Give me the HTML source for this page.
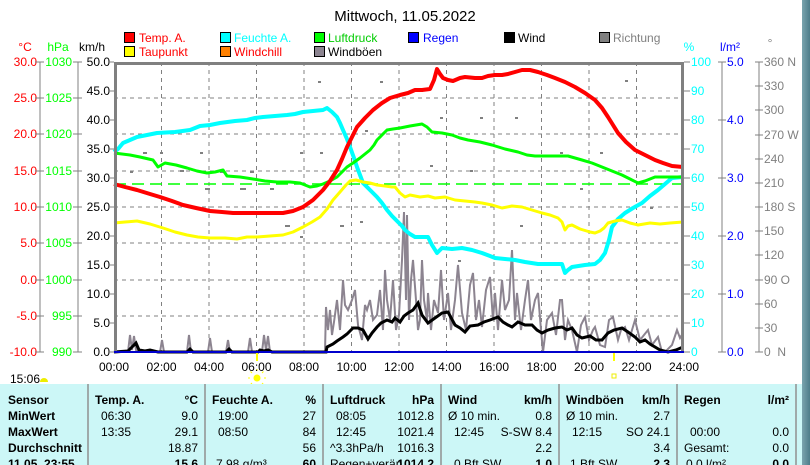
<!DOCTYPE html>
<html><head><meta charset="utf-8"><style>
html,body{margin:0;padding:0;background:#fff;}
body{width:810px;height:465px;overflow:hidden;position:relative;font-family:"Liberation Sans",sans-serif;}
svg{position:absolute;left:0;top:0;}
</style></head><body>
<svg width="810" height="465" viewBox="0 0 810 465" font-family="Liberation Sans, sans-serif">
<defs><linearGradient id="rs" x1="0" x2="1"><stop offset="0" stop-color="#7aa4ae"/><stop offset="1" stop-color="#4d7d8a"/></linearGradient></defs>
<rect x="802" y="0" width="8" height="465" fill="url(#rs)"/>
<text x="405" y="21" font-size="15" text-anchor="middle" fill="#000">Mittwoch, 11.05.2022</text>
<!-- legend -->
<g font-size="12">
<rect x="124.5" y="32.5" width="10" height="10" fill="#f00" stroke="#000"/><text x="139" y="42" fill="#f00">Temp. A.</text>
<rect x="220.5" y="32.5" width="10" height="10" fill="#0ff" stroke="#000"/><text x="234" y="42" fill="#0ff">Feuchte A.</text>
<rect x="314.5" y="32.5" width="10" height="10" fill="#0f0" stroke="#000"/><text x="328" y="42" fill="#0c0">Luftdruck</text>
<rect x="408.5" y="32.5" width="10" height="10" fill="#00f" stroke="#000"/><text x="423" y="42" fill="#00f">Regen</text>
<rect x="504.5" y="32.5" width="10" height="10" fill="#000" stroke="#000"/><text x="518" y="42" fill="#000">Wind</text>
<rect x="599.5" y="32.5" width="10" height="10" fill="#808080" stroke="#000"/><text x="613" y="42" fill="#808080">Richtung</text>
<rect x="124.5" y="46.5" width="10" height="10" fill="#ff0" stroke="#000"/><text x="139" y="56" fill="#f00">Taupunkt</text>
<rect x="220.5" y="46.5" width="10" height="10" fill="#ff8000" stroke="#000"/><text x="234" y="56" fill="#f00">Windchill</text>
<rect x="314.5" y="46.5" width="10" height="10" fill="#8c8490" stroke="#000"/><text x="328" y="56" fill="#000">Windböen</text>
</g>
<!-- unit labels -->
<g font-size="12" text-anchor="middle">
<text x="25" y="51" fill="#f00">°C</text><text x="58" y="51" fill="#0f0">hPa</text><text x="92" y="51" fill="#000">km/h</text>
<text x="689" y="51" fill="#0ff">%</text><text x="730" y="51" fill="#00f">l/m²</text><text x="770" y="47" fill="#808080">°</text>
</g>
<!-- axes lines -->
<g stroke="#808080" stroke-width="1">
<line x1="40" y1="62" x2="40" y2="352"/><line x1="78" y1="62" x2="78" y2="352"/>
<line x1="722" y1="62" x2="722" y2="352"/><line x1="759" y1="62" x2="759" y2="352"/>
</g>
<g font-size="12">
<g fill="#f00" text-anchor="end">
<text x="37" y="66">30.0</text><text x="37" y="102">25.0</text><text x="37" y="138">20.0</text><text x="37" y="175">15.0</text><text x="37" y="211">10.0</text><text x="37" y="247">5.0</text><text x="37" y="284">0.0</text><text x="37" y="320">-5.0</text><text x="37" y="356">-10.0</text>
</g>
<g fill="#0f0" text-anchor="end">
<text x="72" y="66">1030</text><text x="72" y="102">1025</text><text x="72" y="138">1020</text><text x="72" y="175">1015</text><text x="72" y="211">1010</text><text x="72" y="247">1005</text><text x="72" y="284">1000</text><text x="72" y="320">995</text><text x="72" y="356">990</text>
</g>
<g fill="#000" text-anchor="end">
<text x="110" y="66">50.0</text><text x="110" y="95">45.0</text><text x="110" y="124">40.0</text><text x="110" y="153">35.0</text><text x="110" y="182">30.0</text><text x="110" y="211">25.0</text><text x="110" y="240">20.0</text><text x="110" y="269">15.0</text><text x="110" y="298">10.0</text><text x="110" y="327">5.0</text><text x="110" y="356">0.0</text>
</g>
<g fill="#0ff">
<text x="691" y="66">100</text><text x="691" y="95">90</text><text x="691" y="124">80</text><text x="691" y="153">70</text><text x="691" y="182">60</text><text x="691" y="211">50</text><text x="691" y="240">40</text><text x="691" y="269">30</text><text x="691" y="298">20</text><text x="691" y="327">10</text><text x="691" y="356">0</text>
</g>
<g fill="#00f">
<text x="727" y="66">5.0</text><text x="727" y="124">4.0</text><text x="727" y="182">3.0</text><text x="727" y="240">2.0</text><text x="727" y="298">1.0</text><text x="727" y="356">0.0</text>
</g>
<g fill="#808080">
<text x="764" y="66">360 N</text><text x="764" y="90">330</text><text x="764" y="114">300</text><text x="764" y="139">270 W</text><text x="764" y="163">240</text><text x="764" y="187">210</text><text x="764" y="211">180 S</text><text x="764" y="235">150</text><text x="764" y="259">120</text><text x="764" y="284">90 O</text><text x="764" y="308">60</text><text x="764" y="332">30</text><text x="764" y="356">0 &#160;N</text>
</g>
</g>
<g stroke="#808080">
<path d="M35 62h9M35 98h9M35 134h9M35 171h9M35 207h9M35 243h9M35 280h9M35 316h9M35 352h9"/>
<path d="M73 62h9M73 98h9M73 134h9M73 171h9M73 207h9M73 243h9M73 280h9M73 316h9M73 352h9"/>
<path d="M109 62h5M109 91h5M109 120h5M109 149h5M109 178h5M109 207h5M109 236h5M109 265h5M109 294h5M109 323h5M109 352h5"/>
<path d="M684 62h6M684 91h6M684 120h6M684 149h6M684 178h6M684 207h6M684 236h6M684 265h6M684 294h6M684 323h6M684 352h6"/>
<path d="M718 62h8M718 120h8M718 178h8M718 236h8M718 294h8M718 352h8"/>
<path d="M755 62h8M755 86h8M755 110h8M755 135h8M755 159h8M755 183h8M755 207h8M755 231h8M755 255h8M755 280h8M755 304h8M755 328h8M755 352h8"/>
</g>
<!-- grid -->
<g stroke="#808080" stroke-dasharray="4,4" stroke-width="1">
<path d="M114 98H684M114 134H684M114 171H684M114 207H684M114 243H684M114 280H684M114 316H684"/>
<path d="M161.5 62V352M209 62V352M256.5 62V352M304 62V352M351.5 62V352M399 62V352M446.5 62V352M494 62V352M541.5 62V352M589 62V352M636.5 62V352"/>
</g>
<!-- direction dots -->
<g fill="#808080">
<rect x="143" y="152" width="4" height="2"/><rect x="160" y="152" width="3" height="2"/><rect x="180" y="170" width="4" height="2"/><rect x="220" y="171" width="4" height="2"/><rect x="205" y="188" width="5" height="2"/><rect x="240" y="188" width="6" height="2"/><rect x="270" y="188" width="4" height="2"/><rect x="300" y="152" width="3" height="2"/><rect x="320" y="152" width="3" height="2"/><rect x="318" y="81" width="3" height="2"/><rect x="380" y="81" width="3" height="2"/><rect x="285" y="225" width="5" height="2"/><rect x="340" y="225" width="4" height="2"/><rect x="360" y="221" width="3" height="2"/><rect x="365" y="130" width="3" height="2"/><rect x="420" y="90" width="3" height="2"/><rect x="440" y="117" width="3" height="2"/><rect x="480" y="117" width="3" height="2"/><rect x="515" y="117" width="3" height="2"/><rect x="560" y="152" width="3" height="2"/><rect x="600" y="152" width="3" height="2"/><rect x="640" y="152" width="3" height="2"/><rect x="430" y="165" width="3" height="2"/><rect x="470" y="170" width="3" height="2"/><rect x="520" y="225" width="3" height="2"/><rect x="458" y="260" width="3" height="2"/><rect x="625" y="80" width="3" height="2"/><rect x="580" y="188" width="3" height="2"/><rect x="650" y="207" width="3" height="2"/><rect x="300" y="236" width="3" height="2"/><rect x="200" y="152" width="3" height="2"/><rect x="250" y="171" width="4" height="2"/><rect x="130" y="171" width="3" height="2"/></g>
<!-- pressure dashed ref -->
<line x1="114" y1="184" x2="684" y2="184" stroke="#0f0" stroke-width="1.5" stroke-dasharray="12,6"/>
<!-- gusts -->
<polyline fill="none" stroke="#8c8490" stroke-width="2" points="114,352 128,352 130,335 132,350 134,336 136,350 138,352 160,352 162,340 164,352 187,352 189,335 191,352 208,352 210,338 212,352 226,352 228,340 230,352 248,352 250,338 252,352 262,352 264,335 266,350 268,336 270,352 325,352 326,307 328,330 330,310 332,335 334,322 337,300 340,330 343,280 345,305 348,310 352,300 355,290 358,325 362,340 365,305 367,310 370,300 373,320 377,315 380,290 383,330 385,270 387,300 390,320 393,280 396,330 399,315 402,260 404,212 406,300 407,215 409,320 411,280 413,260 416,300 418,330 420,320 422,260 424,300 427,320 428,293 431,330 434,300 438,313 441,270 444,320 448,293 451,330 455,300 458,265 462,313 466,330 470,285 473,273 476,320 479,300 482,327 486,290 490,277 493,320 495,293 498,330 502,280 505,310 509,300 512,250 515,320 517,293 521,330 525,300 528,280 531,320 535,300 538,293 541,330 543,352 547,320 552,313 556,335 560,300 562,300 565,340 568,320 572,330 577,352 581,325 585,317 589,340 593,330 595,327 600,345 605,347 609,320 613,317 618,340 621,330 625,327 629,340 635,320 640,340 644,335 648,330 652,345 658,337 662,352 665,352 672,345 677,330 680,338 683,333"/>
<!-- wind -->
<polyline fill="none" stroke="#000" stroke-width="3" points="114,352 128,351 133,346 136,343 139,350 145,351 150,350 158,352 187,352 190,349 193,352 226,352 229,349 232,352 258,352 260,350 264,351 268,350 272,352 326,352 327,347 333,344 337,341 343,337 347,334 353,328 358,328 363,330 368,339 372,333 377,327 381,323 387,320 392,322 395,318 400,322 404,316 408,313 413,310 418,303 422,315 428,323 435,318 442,313 448,312 455,325 460,328 465,332 470,326 478,325 484,322 490,320 498,317 503,322 508,325 512,327 518,322 525,325 532,325 537,330 542,333 548,330 555,328 562,327 567,330 572,328 577,335 582,338 590,336 596,340 602,340 608,333 614,330 622,328 628,332 635,337 640,342 645,340 650,344 655,347 660,350 668,352 676,350 683,347"/>
<!-- humidity -->
<polyline fill="none" stroke="#0ff" stroke-width="4" stroke-linejoin="round" points="114,152 118,149 123,143 130,140 137,137 147,135 157,133 175,132 190,130 200,126 210,125 220,123 235,121 247,120 255,118 263,117 275,116 287,115 295,114 303,112 313,111 323,110 327,108 332,112 337,117 340,123 343,130 347,139 350,147 354,158 357,167 360,175 363,183 370,190 377,197 382,203 387,210 392,216 398,222 402,226 405,230 410,234 415,237 428,237 432,245 437,253 442,248 452,249 462,248 472,250 482,253 490,256 495,258 505,259 515,260 525,262 538,264 550,264 562,264 565,273 568,270 572,267 585,265 595,264 600,260 605,253 609,240 612,227 618,219 625,213 633,208 642,203 650,196 658,190 665,184 672,178 683,177"/>
<!-- dewpoint -->
<polyline fill="none" stroke="#ff0" stroke-width="3" stroke-linejoin="round" points="114,223 125,222 137,221 150,224 163,228 175,232 187,235 198,237 210,238 225,238 237,239 247,237 257,237 270,236 283,235 293,232 303,227 312,222 320,217 327,209 333,200 340,192 346,185 350,181 356,180 363,182 370,183 377,185 385,186 392,187 395,187 400,193 405,197 410,195 420,197 428,196 435,198 445,197 455,200 465,201 475,202 482,203 492,205 502,208 512,206 522,207 532,210 542,213 550,215 558,218 562,222 565,230 568,226 572,225 580,229 590,232 595,233 600,231 604,228 608,223 615,221 622,220 630,223 638,225 650,223 660,224 670,223 683,222"/>
<!-- pressure -->
<polyline fill="none" stroke="#0f0" stroke-width="3" stroke-linejoin="round" points="114,153 130,155 140,157 153,160 158,167 165,163 176,165 187,168 197,171 207,173 215,172 223,170 227,176 240,177 253,179 265,181 277,182 290,182 300,183 305,185 310,187 317,186 323,184 330,181 337,177 342,172 347,167 353,163 360,158 365,154 370,150 374,145 377,140 382,135 387,130 393,129 400,128 410,126 422,124 427,127 432,132 442,133 452,135 460,138 468,140 480,142 492,145 505,149 518,152 527,155 535,156 550,156 568,156 575,158 582,160 592,163 602,167 612,171 622,175 630,179 638,183 645,181 655,177 670,177 683,177"/>
<!-- temp -->
<polyline fill="none" stroke="#f00" stroke-width="4" stroke-linejoin="round" points="114,184 125,187 137,190 150,194 160,197 172,201 183,205 196,208 210,211 222,212 233,213 260,213 283,213 293,211 303,207 313,200 323,190 330,181 337,170 342,159 347,147 352,137 357,127 365,118 373,110 382,103 390,98 400,95 408,93 415,90 422,90 430,89 434,80 437,69 440,74 443,78 448,80 453,81 460,78 465,77 475,78 482,78 488,76 495,75 502,75 508,74 515,72 522,70 530,70 538,72 547,75 555,78 565,82 575,87 585,93 595,100 602,108 608,117 613,125 618,133 626,142 635,150 645,155 655,160 663,163 672,166 683,167"/>
<!-- frame -->
<path d="M115.5 352V63.5H682.5V352" fill="none" stroke="#808080" stroke-width="3"/>
<line x1="114" y1="352" x2="684" y2="352" stroke="#00c" stroke-width="2"/>
<!-- sun markers -->
<line x1="257" y1="353" x2="257" y2="361" stroke="#ff0" stroke-width="2"/>
<line x1="614" y1="353" x2="614" y2="361" stroke="#ff0" stroke-width="2"/>
<circle cx="257" cy="378" r="3.5" fill="#ff0"/>
<g stroke="#ff0" stroke-width="1"><path d="M257 371v-2M257 385v2M250 378h-2M264 378h2M252 373l-1.5-1.5M262 373l1.5-1.5M252 383l-1.5 1.5M262 383l1.5 1.5"/></g>
<rect x="612" y="374" width="4" height="4" fill="none" stroke="#ee0"/>
<!-- x labels -->
<g font-size="12" text-anchor="middle" fill="#000">
<text x="114" y="371">00:00</text><text x="161.5" y="371">02:00</text><text x="209" y="371">04:00</text><text x="256.5" y="371">06:00</text><text x="304" y="371">08:00</text><text x="351.5" y="371">10:00</text><text x="399" y="371">12:00</text><text x="446.5" y="371">14:00</text><text x="494" y="371">16:00</text><text x="541.5" y="371">18:00</text><text x="589" y="371">20:00</text><text x="636.5" y="371">22:00</text><text x="684" y="371">24:00</text>
</g>
<text x="10" y="383" font-size="12">15:06</text>
<path d="M40 382a4 4 0 0 1 8 0z" fill="#ee0"/>
<!-- table -->
<rect x="0" y="384" width="802" height="81" fill="#ccf7f7"/>
<g stroke="#909090" stroke-width="1.5">
<path d="M88 384V465M205 384V465M323 384V465M441 384V465M559 384V465M677 384V465M796 384V465"/>
</g>
<g font-size="12" fill="#000">
<g font-weight="bold">
<text x="8" y="404">Sensor</text><text x="8" y="420">MinWert</text><text x="8" y="436">MaxWert</text><text x="8" y="452">Durchschnitt</text><text x="8" y="468">11.05. 23:55</text>
<text x="95" y="404">Temp. A.</text><text x="198" y="404" text-anchor="end">°C</text>
<text x="212" y="404">Feuchte A.</text><text x="316" y="404" text-anchor="end">%</text>
<text x="330" y="404">Luftdruck</text><text x="434" y="404" text-anchor="end">hPa</text>
<text x="448" y="404">Wind</text><text x="552" y="404" text-anchor="end">km/h</text>
<text x="566" y="404">Windböen</text><text x="670" y="404" text-anchor="end">km/h</text>
<text x="684" y="404">Regen</text><text x="789" y="404" text-anchor="end">l/m²</text>
<text x="198" y="468" text-anchor="end">15.6</text><text x="316" y="468" text-anchor="end">60</text><text x="434" y="468" text-anchor="end">1014.2</text><text x="552" y="468" text-anchor="end">1.0</text><text x="670" y="468" text-anchor="end">2.3</text><text x="789" y="468" text-anchor="end">0.0</text>
</g>
<text x="101" y="420">06:30</text><text x="198" y="420" text-anchor="end">9.0</text>
<text x="101" y="436">13:35</text><text x="198" y="436" text-anchor="end">29.1</text>
<text x="198" y="452" text-anchor="end">18.87</text>
<text x="218" y="420">19:00</text><text x="316" y="420" text-anchor="end">27</text>
<text x="218" y="436">08:50</text><text x="316" y="436" text-anchor="end">84</text>
<text x="316" y="452" text-anchor="end">56</text><text x="216" y="468">7.98 g/m³</text>
<text x="336" y="420">08:05</text><text x="434" y="420" text-anchor="end">1012.8</text>
<text x="336" y="436">12:45</text><text x="434" y="436" text-anchor="end">1021.4</text>
<text x="330" y="452">^3.3hPa/h</text><text x="434" y="452" text-anchor="end">1016.3</text><text x="330" y="468">Regen+verän</text>
<text x="448" y="420">Ø 10 min.</text><text x="552" y="420" text-anchor="end">0.8</text>
<text x="454" y="436">12:45</text><text x="552" y="436" text-anchor="end">S-SW 8.4</text>
<text x="552" y="452" text-anchor="end">2.2</text><text x="454" y="468">0 Bft SW</text>
<text x="566" y="420">Ø 10 min.</text><text x="670" y="420" text-anchor="end">2.7</text>
<text x="572" y="436">12:15</text><text x="670" y="436" text-anchor="end">SO 24.1</text>
<text x="670" y="452" text-anchor="end">3.4</text><text x="570" y="468">1 Bft SW</text>
<text x="690" y="436">00:00</text><text x="789" y="436" text-anchor="end">0.0</text>
<text x="684" y="452">Gesamt:</text><text x="789" y="452" text-anchor="end">0.0</text><text x="686" y="468">0.0 l/m²</text>
</g>
</svg>
</body></html>
